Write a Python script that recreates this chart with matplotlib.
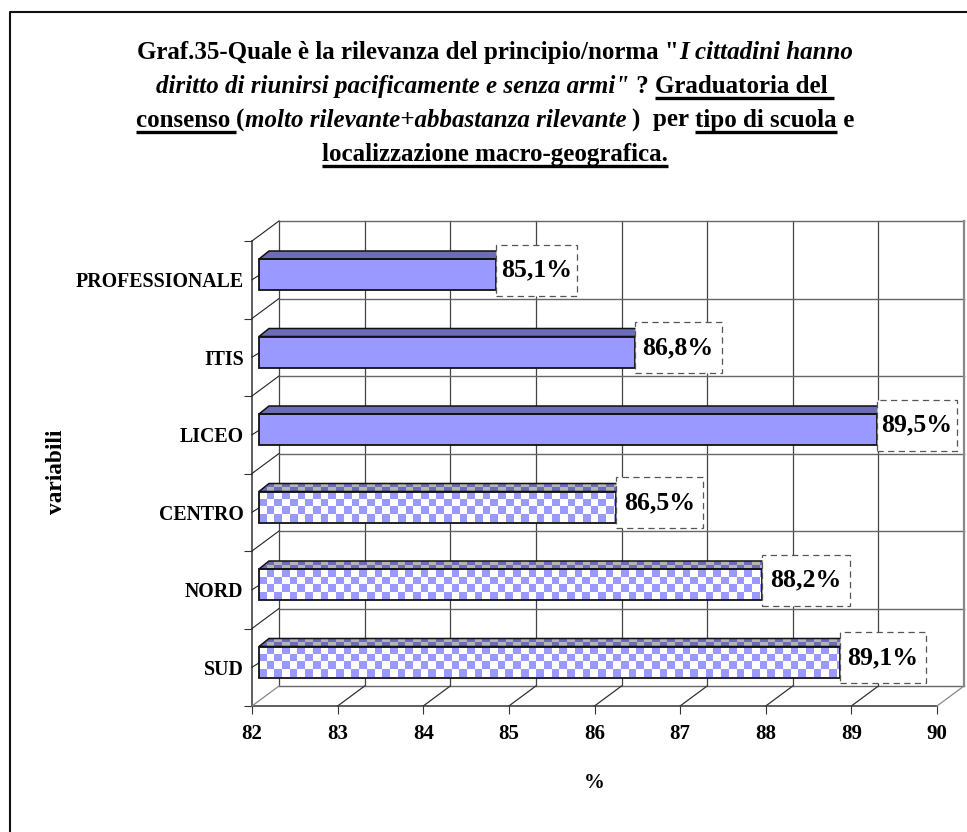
import numpy as np
from matplotlib import pyplot as plt
from matplotlib.colors import ListedColormap
from matplotlib.lines import Line2D
from matplotlib.patches import Polygon, Rectangle
from matplotlib.transforms import Affine2D, IdentityTransform

# data, bottom to top as in the chart
categories = ["SUD", "NORD", "CENTRO", "LICEO", "ITIS", "PROFESSIONALE"]
# bar ends, the printed labels are kept apart
values = [89.07, 88.17, 86.49, 89.5, 86.7, 85.1]
value_labels = ["89,1%", "88,2%", "86,5%", "89,5%", "86,8%", "85,1%"]
checkered = [True, True, True, False, False, False]
x_ticks = [82, 83, 84, 85, 86, 87, 88, 89, 90]

W, H = 967, 832
SERIF = "Liberation Serif"
plt.rcParams["font.family"] = SERIF
plt.rcParams["font.weight"] = "bold"

fig = plt.figure(figsize=(W / 100, H / 100), dpi=100)


def px(x, y):
    return x / W, 1 - y / H


# axes box is the front plane of the 3d chart
L, R, T, B = 252, 937, 241, 706
box = [L / W, 1 - B / H, (R - L) / W, (B - T) / H]
ax = fig.add_axes(box)
ax.set_xlim(82, 90)
ax.set_ylim(-0.5, 5.5)
ax.patch.set_visible(False)
for s in ["top", "right"]:
    ax.spines[s].set_visible(False)
for s in ["left", "bottom"]:
    ax.spines[s].set_color("#333333")
    ax.spines[s].set_linewidth(1.1)

ax.set_xticks(x_ticks)
ax.tick_params(axis="x", length=6, width=0.8, color="#333333", labelsize=15, pad=7)
ax.set_yticks(range(len(categories)))
ax.set_yticklabels(categories)
ax.tick_params(axis="y", length=0, labelsize=14.3, pad=6)
boundaries = np.arange(-0.5, 6, 1)
ax.set_yticks(boundaries, minor=True)
ax.tick_params(axis="y", which="minor", length=6, width=0.8, color="#333333")

# back wall and floor, shifted from the front plane
DX, DY = 27, 20
back = ax.transData + Affine2D().translate(DX, DY)
GRID = "#666666"
for v in x_ticks[:-1]:
    ax.plot([v, v], [-0.5, 5.5], color="#444444", lw=0.9, transform=back, clip_on=False, zorder=1)
for b in boundaries:
    ax.plot([82, 90], [b, b], color=GRID, lw=1.0, transform=back, clip_on=False, zorder=1)
ax.plot([90, 90], [-0.5, 5.5], color="#888888", lw=1.6, transform=back, clip_on=False, zorder=1)

to_px = ax.transData.transform
for v in x_ticks:
    p = to_px((v, -0.5))
    col = "#888888" if v in (82, 90) else "#333333"
    fig.add_artist(Line2D([p[0], p[0] + DX], [p[1], p[1] + DY], color=col, lw=0.9,
                          transform=IdentityTransform(), zorder=1.5))
for b in boundaries[1:]:
    p = to_px((82, b))
    fig.add_artist(Line2D([p[0], p[0] + DX], [p[1], p[1] + DY], color="#222222", lw=0.8,
                          transform=IdentityTransform(), zorder=1.5))
for i in range(len(categories)):
    p = to_px((82, i))
    fig.add_artist(Line2D([p[0], p[0] + 8], [p[1], p[1] + 5], color="#222222", lw=0.8,
                          transform=IdentityTransform(), zorder=1.5))

ax.set_xlabel("%", fontsize=15, fontweight="bold")
ax.xaxis.set_label_coords(0.499, -0.144)
fig.text(*px(56, 472), "variabili", fontsize=16.8, rotation=90, ha="center", va="center")

# second axes for the bars: their scale sits a bit left of the printed ticks
PX_82, PX_PER_UNIT = 227.5, 86.6
BAR_LEFT_PX = 259
bar_ax = fig.add_axes(box, zorder=3)
bar_ax.patch.set_visible(False)
bar_ax.axis("off")
x0, x1 = 82 + (L - PX_82) / PX_PER_UNIT, 82 + (R - PX_82) / PX_PER_UNIT
y0, y1 = -(B - 662) / 77.5, (662 - T) / 77.5
left = 82 + (BAR_LEFT_PX - PX_82) / PX_PER_UNIT
BAR_H = 31 / 77.5
CELL = 7.7
SKEW_X, SKEW_Y = 10, 8
BLUE, TOP_BLUE, TOP_GRAY = "#9999FF", "#6C6CB8", "#B4B4B4"
front_cmap = ListedColormap(["#FFFFFF", BLUE])
top_cmap = ListedColormap([TOP_GRAY, TOP_BLUE])
BOX_W = [86, 88, 87, 80, 87, 81]
BOX_H = 51


def checker(rows, cols):
    yy, xx = np.indices((rows, cols))
    return (xx + yy) % 2


for i, (v, lab, chk) in enumerate(zip(values, value_labels, checkered)):
    face = "#FFFFFF" if chk else BLUE
    bar = bar_ax.barh(i, v - left, left=left, height=BAR_H, color=face, zorder=4)[0]
    bar_ax.set_xlim(x0, x1)
    bar_ax.set_ylim(y0, y1)
    a = bar_ax.transData.transform((left, i + BAR_H / 2))
    b = bar_ax.transData.transform((v, i + BAR_H / 2))
    verts = [a, (a[0] + SKEW_X, a[1] + SKEW_Y), (b[0] + SKEW_X, b[1] + SKEW_Y), b]
    top = Polygon(verts, closed=True, facecolor=TOP_BLUE, edgecolor="none",
                  transform=IdentityTransform(), zorder=4)
    bar_ax.add_patch(top)
    if chk:
        unit_x = 1 / PX_PER_UNIT
        unit_y = BAR_H / 31
        cols = int((v - left) / unit_x / CELL) + 3
        im = bar_ax.imshow(checker(4, cols), cmap=front_cmap, aspect="auto", interpolation="nearest",
                           extent=[left, left + cols * CELL * unit_x, i - BAR_H / 2, i + BAR_H / 2],
                           zorder=5)
        im.set_clip_path(bar)
        im2 = bar_ax.imshow(checker(2, cols), cmap=top_cmap, aspect="auto", interpolation="nearest",
                            extent=[left, left + cols * CELL * unit_x, i + BAR_H / 2,
                                    i + BAR_H / 2 + SKEW_Y * unit_y], zorder=5)
        im2.set_clip_path(top)
        bar_ax.set_xlim(x0, x1)
        bar_ax.set_ylim(y0, y1)
    bar_ax.add_patch(Polygon(verts, closed=True, facecolor="none", edgecolor="#111111", lw=1.1,
                             transform=IdentityTransform(), zorder=6))
    bar_ax.barh(i, v - left, left=left, height=BAR_H, facecolor="none", edgecolor="#111111",
                lw=1.3, zorder=6)
    # value label, white box with dashed border starting at the bar end
    mid = bar_ax.transData.transform((v, i))
    bar_ax.add_patch(Rectangle((mid[0], mid[1] + 4.5 - BOX_H / 2), BOX_W[i], BOX_H, facecolor="white",
                               edgecolor="#555555", lw=0.9, ls=(0, (5, 3.5)),
                               transform=IdentityTransform(), zorder=7, clip_on=False))
    bar_ax.text(mid[0] + BOX_W[i] / 2, mid[1] + 4.5, lab, fontsize=18.5, fontweight="bold", ha="center",
                va="center", transform=IdentityTransform(), zorder=8)

# outer border, runs off the right and bottom of the image
fig.add_artist(Line2D([10, 10, W], [0, H - 12, H - 12], color="#111111", lw=1.5,
                      transform=IdentityTransform()))

# title, built run by run because of the mixed styles
B_, I_, U_ = "bold", "italic", "under"
title_lines = [
    (59, [('Graf.35-Quale è la rilevanza del principio/norma "', B_), ("I cittadini hanno", I_)]),
    (93, [('diritto di riunirsi pacificamente e senza armi"', I_), (" ? ", B_), ("Graduatoria del ", U_)]),
    (127, [("consenso ", U_), ("(", B_), ("molto rilevante+abbastanza rilevante ", I_), (")  per ", B_),
           ("tipo di scuola", U_), (" e", B_)]),
    (161, [("localizzazione macro-geografica.", U_)]),
]
TITLE_SIZE = 18
renderer = fig.canvas.get_renderer()


def run_width(s, style):
    st = "italic" if style == I_ else "normal"
    t1 = fig.text(0, 0, "|" + s + "|", fontsize=TITLE_SIZE, fontstyle=st, fontweight="bold")
    t2 = fig.text(0, 0, "||", fontsize=TITLE_SIZE, fontstyle=st, fontweight="bold")
    w = t1.get_window_extent(renderer).width - t2.get_window_extent(renderer).width
    t1.remove()
    t2.remove()
    return w


for base, runs in title_lines:
    widths = [run_width(s, st) for s, st in runs]
    x = 495 - sum(widths) / 2
    for (s, st), w in zip(runs, widths):
        fig.text(*px(x, base), s, fontsize=TITLE_SIZE, fontweight="bold",
                 fontstyle="italic" if st == I_ else "normal", ha="left", va="baseline")
        if st == U_:
            fig.add_artist(Line2D([x, x + w], [H - base - 5, H - base - 5], color="black", lw=2.4,
                                  solid_capstyle="butt", transform=IdentityTransform()))
        x += w

fig.savefig("out.png", dpi=100)
